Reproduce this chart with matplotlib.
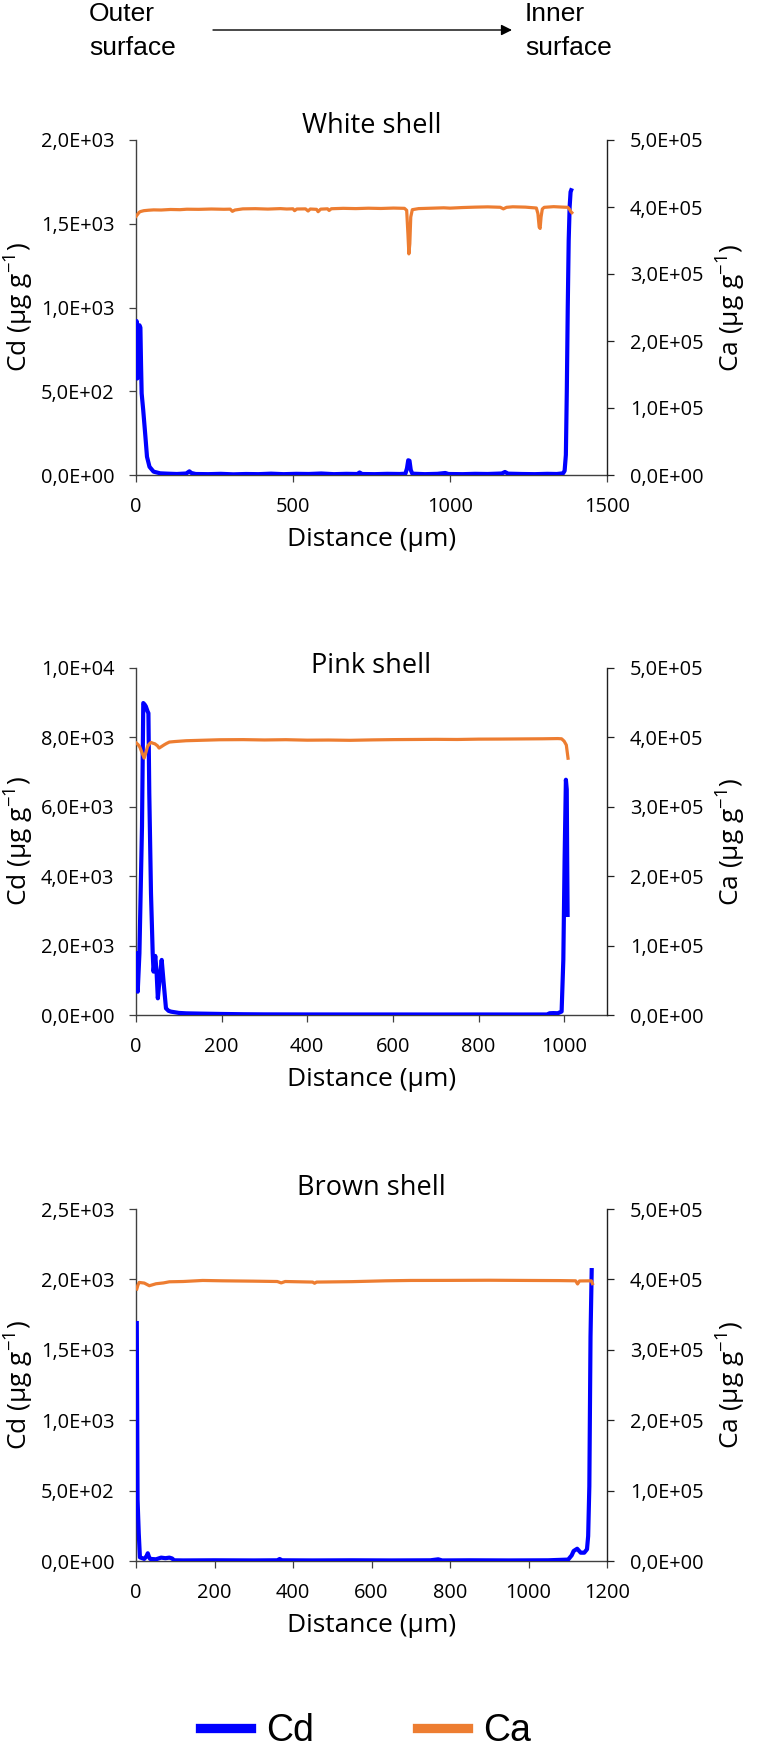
import matplotlib
matplotlib.use("Agg")
import matplotlib.pyplot as plt
from matplotlib.ticker import FuncFormatter, MultipleLocator
from matplotlib.lines import Line2D

plt.rcParams['font.family'] = ['Open Sans', 'DejaVu Sans']
plt.rcParams['mathtext.fontset'] = 'custom'
plt.rcParams['mathtext.rm'] = 'Open Sans'
plt.rcParams['mathtext.it'] = 'Open Sans:italic'
plt.rcParams['mathtext.bf'] = 'Open Sans:bold'

# ---------------- data ----------------
titles = ["White shell", "Pink shell", "Brown shell"]
x_limits = [1500, 1100, 1200]
x_steps = [500, 200, 200]
x_tick_max = [1500, 1000, 1200]
cd_limits = [2000, 10000, 2500]
cd_steps = [500, 2000, 500]
ca_limit = 500000
ca_step = 100000

# White shell
white_cd_x = [0, 2, 4, 7, 11, 14, 16, 18, 23, 30, 35, 43, 56, 77, 100, 130, 160, 170, 176, 190,
              230, 270, 310, 350, 390, 430, 470, 510, 550, 590, 630, 670, 705, 712, 720, 760,
              800, 840, 858, 863, 867, 871, 875, 880, 920, 960, 985, 995, 1040, 1080, 1120,
              1165, 1175, 1185, 1230, 1270, 1310, 1340, 1360, 1365, 1369, 1372, 1375, 1378,
              1381, 1384, 1386]
white_cd = [905, 919, 576, 870, 894, 880, 665, 487, 387, 228, 109, 49, 20, 10, 8, 6, 9, 22, 12, 6,
            5, 7, 4, 6, 5, 8, 5, 7, 6, 9, 5, 7, 6, 15, 6, 5,
            7, 6, 8, 40, 88, 85, 30, 8, 5, 7, 12, 6, 5, 7, 6,
            9, 18, 8, 6, 5, 7, 6, 10, 25, 120, 500, 1000, 1400,
            1600, 1690, 1700]
white_ca_x = [0, 5, 10, 14, 25, 40, 56, 80, 110, 140, 162, 200, 240, 280, 300, 307, 315, 340,
              380, 420, 460, 480, 500, 505, 512, 540, 548, 555, 575, 580, 588, 610, 615, 622,
              660, 700, 740, 780, 820, 855, 862, 866, 869, 872, 875, 880, 900, 940, 980, 1000,
              1040, 1080, 1120, 1160, 1170, 1180, 1200, 1240, 1275, 1280, 1284, 1287, 1290,
              1294, 1300, 1330, 1360, 1375, 1380, 1385, 1388]
white_ca = [386000, 389000, 392000, 393200, 394500, 395200, 395700, 395500, 396300, 396000,
            396700, 396500, 397000, 396600, 396800, 393500, 395500, 397200, 397500, 396900,
            397600, 397000, 397300, 394500, 397000, 397200, 394000, 397000, 396500, 393000,
            396800, 397300, 394800, 397400, 398000, 397600, 398200, 397800, 398400, 398000,
            395000, 360000, 330000, 345000, 385000, 396000, 397600, 398200, 398800, 398300,
            399200, 399800, 400200, 399600, 397200, 399500, 400300, 399800, 398500, 390000,
            370000, 368000, 385000, 397000, 399500, 400500, 399800, 399500, 397000, 393000,
            391500]

# Pink shell
pink_cd_x = [1, 4, 8, 14, 17, 20, 23, 27, 29, 31, 35, 39, 41, 45, 48, 51, 55, 60, 64, 70, 76,
             82, 100, 117, 150, 200, 250, 300, 400, 500, 600, 700, 800, 900, 960, 966, 975,
             985, 994, 998, 1001, 1004, 1006, 1007, 1008]
pink_cd = [1780, 672, 1780, 5431, 8990, 8950, 8893, 8750, 8700, 6395, 3510, 1780, 1250, 1702,
           1250, 481, 1010, 1587, 1010, 193, 120, 96, 60, 48, 40, 30, 22, 18, 16, 15, 15, 14,
           15, 14, 15, 50, 55, 50, 100, 1590, 4500, 6780, 6500, 4500, 2884]
pink_ca_x = [1, 5, 9, 14, 19, 23, 27, 31, 35, 40, 44, 50, 54, 60, 66, 72, 78, 90, 117, 150,
             195, 250, 300, 350, 400, 450, 500, 550, 600, 650, 700, 750, 800, 850, 900, 950,
             985, 994, 1000, 1005, 1009]
pink_ca = [391800, 389500, 386000, 378000, 370200, 378000, 386900, 390500, 392700, 391500,
           390800, 388000, 384600, 387000, 389400, 391500, 393300, 394000, 395200, 395800,
           396600, 396800, 396300, 396700, 396000, 396200, 395800, 396400, 396800, 397000,
           397200, 397000, 397500, 397600, 397800, 398000, 398300, 398000, 394500, 389000,
           370000]

# Brown shell
brown_cd_x = [2, 4, 7, 10, 21, 27, 30, 33, 36, 51, 64, 75, 85, 92, 97, 120, 200, 300, 360, 366,
              372, 450, 550, 650, 750, 770, 780, 850, 950, 1050, 1101, 1110, 1115, 1124, 1133,
              1142, 1149, 1152, 1155, 1158, 1161]
brown_cd = [1690, 434, 197, 26, 15, 35, 55, 30, 15, 12, 24, 20, 24, 18, 5, 4, 5, 4, 5, 14,
            5, 4, 5, 4, 5, 12, 4, 5, 4, 5, 10, 40, 71, 87, 59, 59, 83, 177, 531, 1593, 2066]
brown_ca_x = [2, 5, 8, 21, 34, 51, 70, 85, 120, 170, 220, 300, 360, 370, 380, 450, 455, 460,
              550, 636, 700, 800, 900, 1000, 1080, 1120, 1125, 1130, 1160, 1163]
brown_ca = [386300, 392000, 395700, 394800, 391000, 393800, 395000, 396600, 397000, 398500,
            398000, 397500, 397000, 395000, 397000, 396200, 394500, 396200, 396800, 398000,
            398500, 398600, 398800, 398500, 398300, 398000, 393500, 397800, 398000, 394000]

cd_x = [white_cd_x, pink_cd_x, brown_cd_x]
cd_y = [white_cd, pink_cd, brown_cd]
ca_x = [white_ca_x, pink_ca_x, brown_ca_x]
ca_y = [white_ca, pink_ca, brown_ca]

# ---------------- layout (pixels) ----------------
W, H = 762, 1748
fig = plt.figure(figsize=(W / 100, H / 100), dpi=100)

AX_L, AX_R = 136, 607
panels_px = [(140, 475), (668, 1015), (1209, 1561)]
title_y = [126, 666, 1188]

BLUE = '#0000FF'
ORANGE = '#ED7D31'
AXC = '#404040'
TICK_FS = 14.4
LAB_FS = 19


def fmt(v, pos):
    return ('%.1E' % v).replace('.', ',')


for i in range(3):
    top, bot = panels_px[i]
    ax = fig.add_axes([AX_L / W, 1 - bot / H, (AX_R - AX_L) / W, (bot - top) / H])
    ax2 = ax.twinx()

    ax.plot(cd_x[i], cd_y[i], color=BLUE, lw=3.0, solid_joinstyle='round', zorder=3)
    ax2.plot(ca_x[i], ca_y[i], color=ORANGE, lw=2.3, solid_joinstyle='round', zorder=3)

    ax.set_xlim(0, x_limits[i])
    ax.set_ylim(0, cd_limits[i])
    ax2.set_ylim(0, ca_limit)
    ax.set_xticks(list(range(0, x_tick_max[i] + 1, x_steps[i])))
    ax.yaxis.set_major_locator(MultipleLocator(cd_steps[i]))
    ax2.yaxis.set_major_locator(MultipleLocator(ca_step))
    ax.yaxis.set_major_formatter(FuncFormatter(fmt))
    ax2.yaxis.set_major_formatter(FuncFormatter(fmt))

    for s in ['top', 'right']:
        ax.spines[s].set_visible(False)
    for s in ['top', 'left', 'bottom']:
        ax2.spines[s].set_visible(False)
    ax.spines['left'].set_color(AXC)
    ax.spines['bottom'].set_color(AXC)
    ax2.spines['right'].set_color('#202020')
    for sp in [ax.spines['left'], ax.spines['bottom'], ax2.spines['right']]:
        sp.set_linewidth(1.0)

    ax.tick_params(axis='y', direction='out', length=5, width=0.9, color=AXC,
                   labelsize=TICK_FS, pad=10.5)
    ax.tick_params(axis='x', direction='out', length=5, width=0.9, color=AXC,
                   labelsize=TICK_FS, pad=11)
    ax2.tick_params(axis='y', direction='out', length=5, width=0.9, color='#202020',
                    labelsize=TICK_FS, pad=11.5)

    ax.set_ylabel('Cd (µg g$^{-1}$)', fontsize=LAB_FS)
    ax2.set_ylabel('Ca (µg g$^{-1}$)', fontsize=LAB_FS, rotation=90)
    ax.set_xlabel('Distance (µm)', fontsize=LAB_FS)
    ax.yaxis.label.set_va('center')
    ax2.yaxis.label.set_va('center')
    ax.xaxis.label.set_va('center')
    h = bot - top
    ax.yaxis.set_label_coords((19.5 - AX_L) / (AX_R - AX_L), 0.5)
    ax2.yaxis.set_label_coords((731 - AX_L) / (AX_R - AX_L), 0.5)
    ax.xaxis.set_label_coords(0.5, -65 / h)

    fig.text((AX_L + AX_R) / 2 / W, 1 - title_y[i] / H, titles[i], ha='center', va='center',
             fontsize=19.5)

# ---------------- header ----------------
HFONT = ['Liberation Sans', 'DejaVu Sans']
HFS = 19
fig.text(89 / W, 1 - 14 / H, 'Outer', ha='left', va='center', fontsize=HFS, family=HFONT)
fig.text(89 / W, 1 - 48 / H, 'surface', ha='left', va='center', fontsize=HFS, family=HFONT)
fig.text(525 / W, 1 - 14 / H, 'Inner', ha='left', va='center', fontsize=HFS, family=HFONT)
fig.text(525 / W, 1 - 48 / H, 'surface', ha='left', va='center', fontsize=HFS, family=HFONT)
fig.add_artist(matplotlib.patches.FancyArrowPatch(
    (213 / W, 1 - 30 / H), (512 / W, 1 - 30 / H), transform=fig.transFigure,
    arrowstyle='-|>', mutation_scale=16, lw=1.0, color='black',
    shrinkA=0, shrinkB=0))

# ---------------- legend ----------------
handles = [Line2D([], [], color=BLUE, lw=6.7), Line2D([], [], color=ORANGE, lw=6.7)]
fig.legend(handles, ['Cd', 'Ca'], loc='center', bbox_to_anchor=(365.5 / W, 1 - 1731 / H),
           ncol=2, frameon=False, prop={'family': HFONT, 'size': 27},
           handlelength=1.36, handletextpad=0.4, columnspacing=2.75,
           borderpad=0, borderaxespad=0)

fig.savefig('out.png', dpi=100)
